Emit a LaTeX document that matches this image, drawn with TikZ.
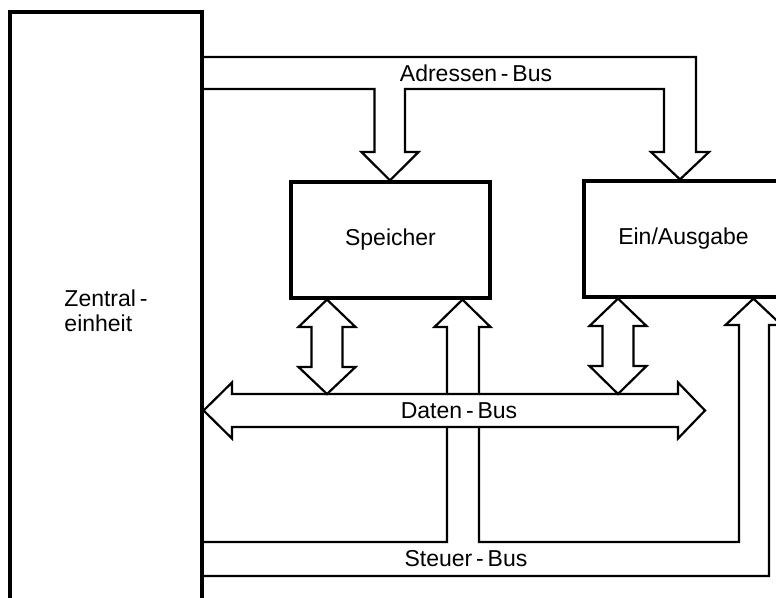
\documentclass[tikz,border=0pt]{standalone}
\usepackage{fontspec}
\setmainfont{Liberation Sans}
\newcommand\busfont{\fontsize{23}{25}\selectfont}
\begin{document}
\begin{tikzpicture}[x=1pt,y=-1pt,
  box/.style={draw,line width=3.2pt,rectangle,inner sep=0pt,font=\busfont},
  busline/.style={draw,line width=2.2pt,line join=miter},
  busfill/.style={busline,fill=white},
  lbl/.style={font=\busfont,inner sep=0pt}]
\clip (0,0) rectangle (776,597);
\fill[white] (0,0) rectangle (776,597);
% boxes
\node[box, minimum width=192pt, minimum height=598pt, align=left] (Z) at (106,311) {Zentral\,-\\einheit};
\node[box, minimum width=199pt, minimum height=116pt] (S) at (390.5,240) {Speicher};
\node[box, minimum width=199pt, minimum height=116pt] (E) at (683.5,239) {Ein/Ausgabe};
% Steuer-Bus
\draw[busline] (Z.east |- 0,542) -- (447,542) -- (447,327) -- (434.5,327) -- (S.south -| 462.5,0)
  -- (490.5,327) -- (479,327) -- (479,542) -- (739,542) -- (739,325) -- (725.5,325)
  -- (E.south -| 753.5,0) -- (781.5,325) -- (769,325) -- (769,576) -- (Z.east |- 0,576);
% Daten-Bus
\draw[busfill] (Z.east |- 0,410.5) -- (232,382.5) -- (232,394) -- (678,394) -- (678,382.5)
  -- (705,410.5) -- (678,438.5) -- (678,427) -- (232,427) -- (232,438.5) -- cycle;
% Adressen-Bus
\draw[busline] (Z.east |- 0,57) -- (696,57) -- (696,152) -- (709,152) -- (E.north -| 680,0)
  -- (651,152) -- (664,152) -- (664,89) -- (405,89) -- (405,152) -- (418.5,152)
  -- (S.north -| 390,0) -- (361.5,152) -- (374.5,152) -- (374.5,89) -- (Z.east |- 0,89);
% double arrows
\draw[busline] (S.south -| 327,0) -- (355.5,327) -- (342.5,327) -- (342.5,367) -- (355.5,367)
  -- (327,394) -- (298.5,367) -- (311.5,367) -- (311.5,327) -- (298.5,327) -- cycle;
\draw[busline] (E.south -| 618,0) -- (646.5,326) -- (633.5,326) -- (633.5,366) -- (646.5,366)
  -- (618,394) -- (589.5,366) -- (602.5,366) -- (602.5,326) -- (589.5,326) -- cycle;
% labels
\node[lbl] (AB) at (476,73) {Adressen\,-\,Bus};
\node[lbl] (DB) at (459,411) {Daten\,-\,Bus};
\node[lbl] (SB) at (466,559) {Steuer\,-\,Bus};
\end{tikzpicture}
\end{document}
